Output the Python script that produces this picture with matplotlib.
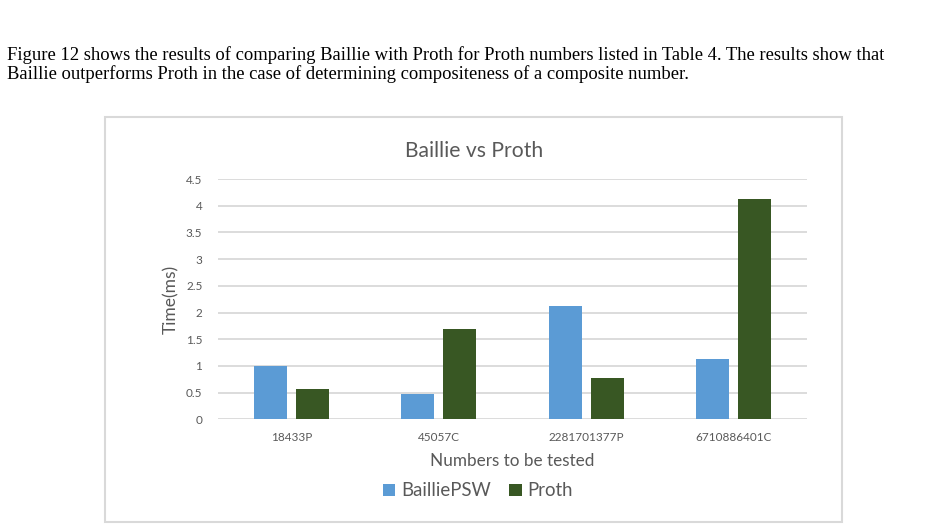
import matplotlib
matplotlib.use('Agg')
import matplotlib.pyplot as plt
from matplotlib.patches import Rectangle
import numpy as np

'''
 data
'''
numbers = ['18433P', '45057C', '2281701377P', '6710886401C']
baillie = [1.00, 0.47, 2.12, 1.13]
proth = [0.57, 1.70, 0.78, 4.13]
yticks = [0, 0.5, 1, 1.5, 2, 2.5, 3, 3.5, 4, 4.5]
ytick_labels = ['0', '0.5', '1', '1.5', '2', '2.5', '3', '3.5', '4', '4.5']

line1 = ('Figure 12 shows the results of comparing Baillie with Proth for Proth numbers listed in Table 4. '
         'The results show that')
line2 = 'Baillie outperforms Proth in the case of determining compositeness of a composite number.'

W, H = 948, 531
blue = '#5b9bd5'
green = '#385723'
gray = '#595959'
grid = '#d9d9d9'
font = 'Lato'

fig = plt.figure(figsize=(W / 100, H / 100), dpi=100)

# page text above the chart
fig.text(7 / W, 1 - 60 / H, line1, family='Liberation Serif', fontsize=13.4,
         va='baseline', ha='left', color='black')
fig.text(7 / W, 1 - 79 / H, line2, family='Liberation Serif', fontsize=13.4,
         va='baseline', ha='left', color='black')

# chart frame
fig.patches.append(Rectangle((105 / W, 1 - 522 / H), (842 - 105) / W, (522 - 117) / H,
                             transform=fig.transFigure, fill=False, edgecolor=grid, lw=1.5))

ax = fig.add_axes([217.7 / W, 1 - 419.3 / H, (807.3 - 217.7) / W, (419.3 - 179) / H])

x = np.arange(len(numbers))
w = 0.224
off = 0.142
ax.bar(x - off, baillie, w, color=blue, label='BailliePSW', zorder=3)
ax.bar(x + off, proth, w, color=green, label='Proth', zorder=3)

ax.set_xlim(-0.5, len(numbers) - 0.5)
ax.set_ylim(0, 4.5)
ax.set_yticks(yticks)
ax.set_yticklabels(ytick_labels, family=font, fontsize=8.5, color=gray)
ax.set_xticks(x)
ax.set_xticklabels(numbers, family=font, fontsize=8.5, color=gray)
ax.tick_params(axis='both', length=0)
ax.tick_params(axis='y', pad=11)
ax.tick_params(axis='x', pad=9)
ax.grid(axis='y', color=grid, lw=1.3, zorder=0)
ax.set_axisbelow(True)
for s in ax.spines.values():
    s.set_visible(False)

ax.set_ylabel('Time(ms)', family=font, fontsize=12.5, color=gray, labelpad=5)
ax.set_xlabel('Numbers to be tested', family=font, fontsize=12.3, color=gray, labelpad=7)

fig.text(474 / W, 1 - 151 / H, 'Baillie vs Proth', family=font, fontsize=15.2,
         color=gray, ha='center', va='center')

fig.legend(loc='center', bbox_to_anchor=(478 / W, 1 - 491 / H), ncol=2, frameon=False,
           prop={'family': font, 'size': 13.4}, handlelength=0.65, handleheight=0.65,
           handletextpad=0.3, columnspacing=1.0, labelcolor=gray)

fig.savefig('out.png', dpi=100)
